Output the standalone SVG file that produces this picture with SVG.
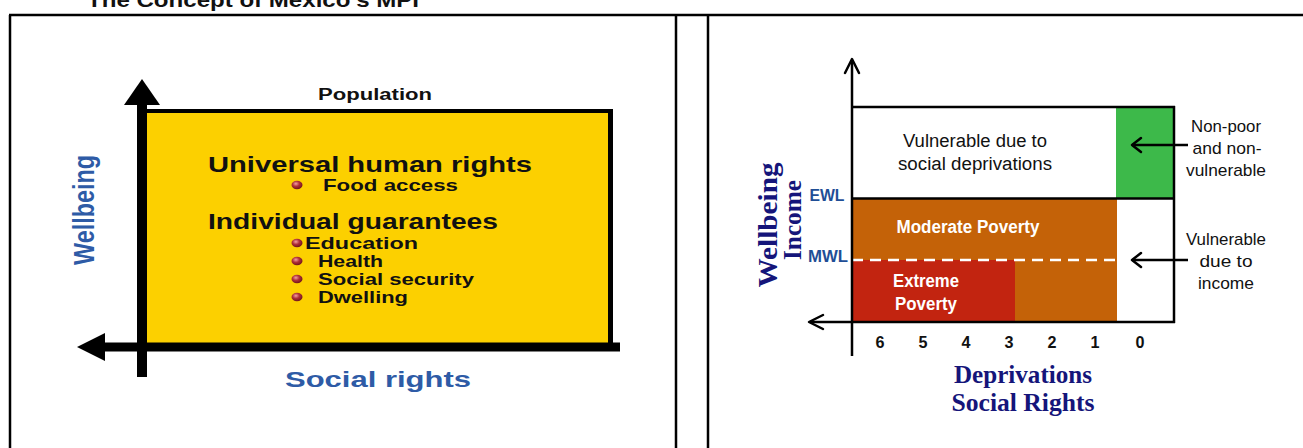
<svg xmlns="http://www.w3.org/2000/svg" width="1303" height="448" viewBox="0 0 1303 448">
<style>
.frame{stroke:#000;stroke-width:2.5;fill:none}
.lt{font-family:"Liberation Sans",Arial,sans-serif;font-weight:bold;fill:#111}
.blue{font-family:"Liberation Sans",Arial,sans-serif;font-weight:bold;fill:#2E5BA6}
.rt{font-family:"Liberation Sans",Arial,sans-serif;fill:#111}
.wt{font-family:"Liberation Sans",Arial,sans-serif;font-weight:bold;fill:#fff}
.navy{font-family:"Liberation Serif","Times New Roman",serif;font-weight:bold;fill:#15157A}
.lvl{font-family:"Liberation Sans",Arial,sans-serif;font-weight:bold;fill:#1F4E96}
.thin{stroke:#000;stroke-width:2.5;fill:none}
.chev{stroke:#000;stroke-width:2.5;fill:none;stroke-linecap:round;stroke-linejoin:round}
</style>
<defs>
<radialGradient id="bul" cx="0.4" cy="0.35" r="0.7">
<stop offset="0" stop-color="#F3A0A0"/>
<stop offset="0.45" stop-color="#B0303A"/>
<stop offset="1" stop-color="#6A1018"/>
</radialGradient>
</defs>
<rect width="1303" height="448" fill="#fff"/>
<text x="87" y="7" class="lt" font-size="20" textLength="332" lengthAdjust="spacingAndGlyphs">The Concept of Mexico's MPI</text>
<g id="table">
<line class="frame" x1="9" y1="15" x2="1303" y2="15"/>
<line class="frame" x1="10" y1="15" x2="10" y2="448"/>
<line class="frame" x1="676" y1="15" x2="676" y2="448"/>
<line class="frame" x1="708" y1="15" x2="708" y2="448"/>
</g>
<g id="left-panel">
<rect x="145" y="111" width="466" height="236" fill="#FCD000"/>
<line x1="143" y1="111" x2="613" y2="111" stroke="#000" stroke-width="4"/>
<line x1="610.5" y1="109" x2="610.5" y2="347" stroke="#000" stroke-width="5"/>
<text x="318" y="100" class="lt" font-size="16" textLength="114" lengthAdjust="spacingAndGlyphs">Population</text>
<text x="208" y="172" class="lt" font-size="22" textLength="324" lengthAdjust="spacingAndGlyphs">Universal human rights</text>
<text x="323" y="191" class="lt" font-size="17" textLength="135" lengthAdjust="spacingAndGlyphs">Food access</text>
<text x="208" y="229" class="lt" font-size="22" textLength="290" lengthAdjust="spacingAndGlyphs">Individual guarantees</text>
<text x="305" y="249" class="lt" font-size="17" textLength="113" lengthAdjust="spacingAndGlyphs">Education</text>
<text x="318" y="267" class="lt" font-size="17" textLength="65" lengthAdjust="spacingAndGlyphs">Health</text>
<text x="318" y="285" class="lt" font-size="17" textLength="156" lengthAdjust="spacingAndGlyphs">Social security</text>
<text x="318" y="303" class="lt" font-size="17" textLength="90" lengthAdjust="spacingAndGlyphs">Dwelling</text>
<ellipse cx="297" cy="185" rx="5.5" ry="4.2" fill="url(#bul)"/>
<ellipse cx="297" cy="243" rx="5.5" ry="4.2" fill="url(#bul)"/>
<ellipse cx="297" cy="261" rx="5.5" ry="4.2" fill="url(#bul)"/>
<ellipse cx="297" cy="279" rx="5.5" ry="4.2" fill="url(#bul)"/>
<ellipse cx="297" cy="297" rx="5.5" ry="4.2" fill="url(#bul)"/>
<text transform="translate(94,210) rotate(-90) scale(1,1.3)" text-anchor="middle" class="blue" font-size="23" textLength="110" lengthAdjust="spacingAndGlyphs">Wellbeing</text>
<text x="285" y="387" class="blue" font-size="22" textLength="186" lengthAdjust="spacingAndGlyphs">Social rights</text>
</g>
<g id="left-axes">
<line x1="142" y1="100" x2="142" y2="377" stroke="#000" stroke-width="10"/>
<polygon points="142,79 124,105 160,105" fill="#000"/>
<line x1="100" y1="347" x2="620" y2="347" stroke="#000" stroke-width="9"/>
<polygon points="77,347 105,333 105,361" fill="#000"/>
</g>
<g id="right-panel">
<rect x="852" y="107" width="265" height="92" fill="#fff"/>
<rect x="1116" y="107" width="58" height="92" fill="#3DB94A"/>
<rect x="852" y="199" width="265" height="123" fill="#C46208"/>
<rect x="852" y="260" width="163" height="62" fill="#C22410"/>
<line x1="852" y1="260" x2="1117" y2="260" stroke="#fff" stroke-width="2.5" stroke-dasharray="11,7"/>
<line class="thin" x1="852" y1="107" x2="1175" y2="107"/>
<line class="thin" x1="1174" y1="106" x2="1174" y2="323"/>
<line class="thin" x1="852" y1="198.5" x2="1175" y2="198.5"/>
<text x="975" y="147" text-anchor="middle" class="rt" font-size="18" textLength="144" lengthAdjust="spacingAndGlyphs">Vulnerable due to</text>
<text x="975" y="170" text-anchor="middle" class="rt" font-size="18" textLength="154" lengthAdjust="spacingAndGlyphs">social deprivations</text>
<text x="968" y="233" text-anchor="middle" class="wt" font-size="18" textLength="143" lengthAdjust="spacingAndGlyphs">Moderate Poverty</text>
<text x="926" y="287" text-anchor="middle" class="wt" font-size="18" textLength="66" lengthAdjust="spacingAndGlyphs">Extreme</text>
<text x="926" y="310" text-anchor="middle" class="wt" font-size="18" textLength="62" lengthAdjust="spacingAndGlyphs">Poverty</text>
<text x="1226" y="132" text-anchor="middle" class="rt" font-size="17" textLength="70" lengthAdjust="spacingAndGlyphs">Non-poor</text>
<text x="1227" y="154" text-anchor="middle" class="rt" font-size="17" textLength="69" lengthAdjust="spacingAndGlyphs">and non-</text>
<text x="1226" y="176" text-anchor="middle" class="rt" font-size="17" textLength="80" lengthAdjust="spacingAndGlyphs">vulnerable</text>
<text x="1226" y="245" text-anchor="middle" class="rt" font-size="17" textLength="80" lengthAdjust="spacingAndGlyphs">Vulnerable</text>
<text x="1226" y="267" text-anchor="middle" class="rt" font-size="17" textLength="53" lengthAdjust="spacingAndGlyphs">due to</text>
<text x="1226" y="289" text-anchor="middle" class="rt" font-size="17" textLength="56" lengthAdjust="spacingAndGlyphs">income</text>
<text x="827" y="201" text-anchor="middle" class="lvl" font-size="17" textLength="35" lengthAdjust="spacingAndGlyphs">EWL</text>
<text x="828" y="262" text-anchor="middle" class="lvl" font-size="17" textLength="40" lengthAdjust="spacingAndGlyphs">MWL</text>
<g class="rt" font-weight="bold" font-size="17" text-anchor="middle">
<text x="880" y="348" textLength="9" lengthAdjust="spacingAndGlyphs">6</text>
<text x="923" y="348" textLength="9" lengthAdjust="spacingAndGlyphs">5</text>
<text x="966" y="348" textLength="9" lengthAdjust="spacingAndGlyphs">4</text>
<text x="1009" y="348" textLength="9" lengthAdjust="spacingAndGlyphs">3</text>
<text x="1052" y="348" textLength="9" lengthAdjust="spacingAndGlyphs">2</text>
<text x="1095" y="348" textLength="9" lengthAdjust="spacingAndGlyphs">1</text>
<text x="1140" y="348" textLength="9" lengthAdjust="spacingAndGlyphs">0</text>
</g>
<text x="1023" y="383" text-anchor="middle" class="navy" font-size="25" textLength="138" lengthAdjust="spacingAndGlyphs">Deprivations</text>
<text x="1023" y="411" text-anchor="middle" class="navy" font-size="25" textLength="143" lengthAdjust="spacingAndGlyphs">Social Rights</text>
<text transform="translate(777,225) rotate(-90)" text-anchor="middle" class="navy" font-size="28" textLength="125" lengthAdjust="spacingAndGlyphs">Wellbeing</text>
<text transform="translate(801,220) rotate(-90)" text-anchor="middle" class="navy" font-size="25" textLength="80" lengthAdjust="spacingAndGlyphs">Income</text>
</g>
<g id="connectors">
<line class="thin" x1="852" y1="60" x2="852" y2="356"/>
<polyline class="chev" points="845,73 852,59 859,73"/>
<line class="thin" x1="810" y1="322" x2="1175" y2="322"/>
<polyline class="chev" points="823,315 809,322 823,329"/>
<line class="thin" x1="1132" y1="145" x2="1188" y2="145"/>
<polyline class="chev" points="1141,138 1132,145 1141,152"/>
<line class="thin" x1="1132" y1="260" x2="1188" y2="260"/>
<polyline class="chev" points="1141,253 1132,260 1141,267"/>
</g>
</svg>
